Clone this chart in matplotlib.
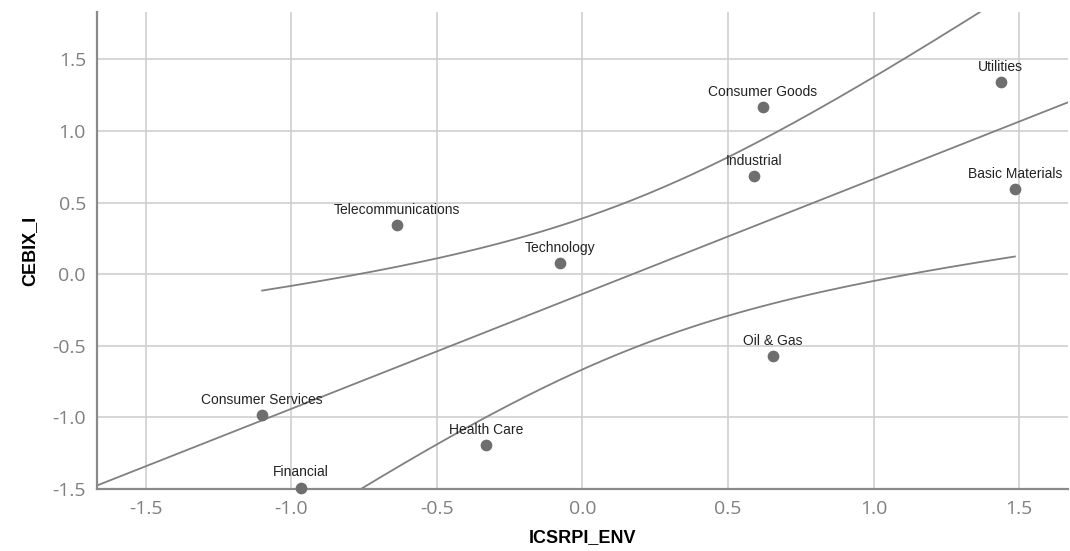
import numpy as np
import matplotlib
matplotlib.use("Agg")
import matplotlib.pyplot as plt

plt.rcParams["axes.unicode_minus"] = False

sectors = ["Consumer Services", "Financial", "Health Care", "Telecommunications",
           "Technology", "Consumer Goods", "Industrial", "Oil & Gas",
           "Utilities", "Basic Materials"]
icsrpi_env = [-1.10, -0.966, -0.33, -0.636, -0.076, 0.619, 0.588, 0.653, 1.436, 1.485]
cebix_i = [-0.986, -1.49, -1.196, 0.343, 0.077, 1.168, 0.685, -0.573, 1.343, 0.594]
t_crit = 2.306  # t(0.975, df=8)

x = np.array(icsrpi_env)
y = np.array(cebix_i)
n = len(x)
slope, intercept = np.polyfit(x, y, 1)
resid = y - (slope * x + intercept)
s = np.sqrt(np.sum(resid ** 2) / (n - 2))
sxx = np.sum((x - x.mean()) ** 2)

fig = plt.figure(figsize=(10.7, 5.51), dpi=100)
ax = fig.add_axes([0.0907, 0.1125, 0.9073, 0.8655])
xlim = (-1.667, 1.667)
ylim = (-1.5, 1.83)
ax.set_xlim(*xlim)
ax.set_ylim(*ylim)

ax.set_xticks([-1.5, -1.0, -0.5, 0.0, 0.5, 1.0, 1.5])
ax.set_yticks([-1.5, -1.0, -0.5, 0.0, 0.5, 1.0, 1.5])
ax.grid(True, color="#cfcfcf", linewidth=1.2)
ax.set_axisbelow(True)
for side in ["top", "right"]:
    ax.spines[side].set_visible(False)
for side in ["left", "bottom"]:
    ax.spines[side].set_color("#8a8a8a")
    ax.spines[side].set_linewidth(1.6)
ax.tick_params(length=0, labelsize=14, labelcolor="#808080", pad=8)
for lab in ax.get_xticklabels() + ax.get_yticklabels():
    lab.set_family("Open Sans")

# regression line over full axis range
xl = np.linspace(xlim[0], xlim[1], 100)
ax.plot(xl, slope * xl + intercept, color="#808080", linewidth=1.3, clip_on=True)

# mean confidence bands over data range
xb = np.linspace(x.min(), x.max(), 200)
se = s * np.sqrt(1.0 / n + (xb - x.mean()) ** 2 / sxx)
yb = slope * xb + intercept
ax.plot(xb, yb + t_crit * se, color="#808080", linewidth=1.3)
ax.plot(xb, yb - t_crit * se, color="#808080", linewidth=1.3)

ax.scatter(x, y, s=55, color="#6e6e6e", zorder=3, clip_on=False)
for name, xi, yi in zip(sectors, x, y):
    ax.annotate(name, (xi, yi), xytext=(0, 6), textcoords="offset points",
                ha="center", va="bottom", fontsize=10, color="#222222",
                family="Liberation Sans", annotation_clip=False)

ax.set_xlabel("ICSRPI_ENV", fontsize=13, fontweight="bold", labelpad=8,
              family="Liberation Sans")
ax.set_ylabel("CEBIX_I", fontsize=13, fontweight="bold", labelpad=10,
              family="Liberation Sans")

fig.savefig("out.png", dpi=100)
